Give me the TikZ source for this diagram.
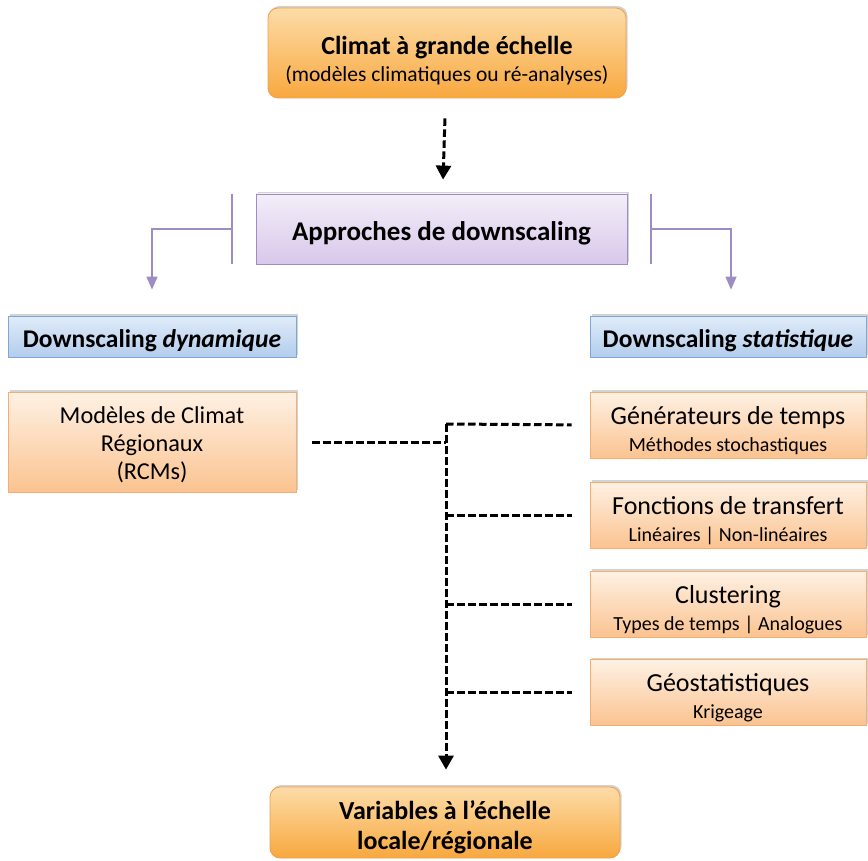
\documentclass[tikz,border=0pt]{standalone}
\usepackage{fontspec}
\setmainfont{Carlito}
\usepackage{tikz}
\usetikzlibrary{arrows,arrows.meta,shadows}

\definecolor{orgtop}{HTML}{FDDCA8}
\definecolor{orgbot}{HTML}{F8A83E}
\definecolor{orgline}{HTML}{EFA048}
\definecolor{pchtop}{HTML}{FEF1E4}
\definecolor{pchbot}{HTML}{FBC390}
\definecolor{pchline}{HTML}{F5AD72}
\definecolor{prptop}{HTML}{F3EEF9}
\definecolor{prpbot}{HTML}{D8C8EA}
\definecolor{prpline}{HTML}{9E8CC4}
\definecolor{blutop}{HTML}{E0ECF9}
\definecolor{blubot}{HTML}{B3CDEC}
\definecolor{bluline}{HTML}{7EA6D6}

\newcommand{\subtxt}{\fontsize{20}{24}\selectfont}
\newcommand{\toppad}[1]{\rule{0pt}{#1}}

\tikzset{
  boxshadow/.style={drop shadow={opacity=0.35,shadow xshift=1.5pt,shadow yshift=2pt}},
  mainbox/.style={rounded corners=10pt,draw=orgline,line width=0.8pt,top color=orgtop,bottom color=orgbot,
    boxshadow,align=center,font=\fontsize{26}{30}\selectfont\bfseries,inner sep=0pt},
  approachbox/.style={draw=prpline,line width=0.8pt,top color=prptop,bottom color=prpbot,boxshadow,
    align=center,font=\fontsize{27}{30}\selectfont\bfseries,minimum width=371pt,minimum height=70pt,inner sep=0pt},
  familybox/.style={draw=bluline,line width=0.8pt,top color=blutop,bottom color=blubot,boxshadow,
    align=center,font=\fontsize{25.5}{28}\selectfont\bfseries,minimum height=41pt,inner sep=0pt},
  methodbox/.style={draw=pchline,line width=0.8pt,top color=pchtop,bottom color=pchbot,boxshadow,
    align=center,minimum width=276pt,minimum height=66pt,font=\fontsize{26}{27}\selectfont,inner sep=0pt},
  dashline/.style={black,line width=3pt,dash pattern=on 7.5pt off 3.5pt},
  bracketline/.style={draw=prpline,line width=1.3pt},
  blackhead/.style={-{Triangle[width=15pt,length=14pt]}},
  purplehead/.style={-{Triangle[width=11pt,length=13pt]}}
}

\begin{document}
\begin{tikzpicture}[x=1pt,y=-1pt]
  \useasboundingbox (0,0) rectangle (868,861);

  \node[mainbox,minimum width=358pt,minimum height=90pt] (large) at (447,53)
    {\toppad{34pt}Climat à grande échelle\\[-3pt]{\mdseries\fontsize{21.5}{26}\selectfont(modèles climatiques ou ré-analyses)}};
  \node[approachbox] (appr) at (441.5,229) {\toppad{27pt}Approches de downscaling};
  \node[familybox,minimum width=288pt] (dyn) at (152,336.5) {\toppad{26pt}Downscaling \textit{dynamique}};
  \node[familybox,minimum width=276pt] (stat) at (728,336.5) {\toppad{26pt}Downscaling \textit{statistique}};

  \node[methodbox,minimum width=288pt,minimum height=100pt,font=\fontsize{24.3}{28}\selectfont] (rcm) at (152,442)
    {\toppad{22pt}Modèles de Climat\\Régionaux\\(RCMs)};
  \node[methodbox] (gen) at (728,425) {\toppad{29pt}Générateurs de temps\\{\subtxt Méthodes stochastiques}};
  \node[methodbox] (fonc) at (728,515) {\toppad{29pt}Fonctions de transfert\\{\subtxt Linéaires | Non-linéaires}};
  \node[methodbox] (clus) at (728,604) {\toppad{29pt}Clustering\\{\subtxt Types de temps | Analogues}};
  \node[methodbox] (geo) at (728,692.5) {\toppad{29pt}Géostatistiques\\{\subtxt Krigeage}};

  \node[mainbox,minimum width=350pt,minimum height=71pt] (local) at (445,822.5)
    {\toppad{29pt}Variables à l’échelle\\locale/régionale};

  \coordinate (lft) at (232,229);
  \coordinate (rgt) at (651,229);
  \coordinate (trunk) at (446,424);

  \draw[dashline,blackhead,shorten <=20pt,shorten >=14pt] (large) -- (appr);

  \draw[bracketline] (lft |- appr.north) -- (lft |- appr.south);
  \draw[bracketline] (rgt |- appr.north) -- (rgt |- appr.south);
  \draw[bracketline,purplehead,shorten >=26pt] (lft) -| (dyn.north);
  \draw[bracketline,purplehead,shorten >=26pt] (rgt) -| ([xshift=3pt]stat.north);

  \draw[dashline,shorten <=16pt] (rcm.east) -- (trunk |- rcm.east);
  \draw[dashline,blackhead,shorten >=17pt] (trunk) -- (trunk |- local.north);
  \draw[dashline,shorten >=18pt] (trunk) -- (gen.west);
  \draw[dashline,shorten >=18pt] (trunk |- fonc.west) -- (fonc.west);
  \draw[dashline,shorten >=18pt] (trunk |- clus.west) -- (clus.west);
  \draw[dashline,shorten >=18pt] (trunk |- geo.west) -- (geo.west);
\end{tikzpicture}
\end{document}
